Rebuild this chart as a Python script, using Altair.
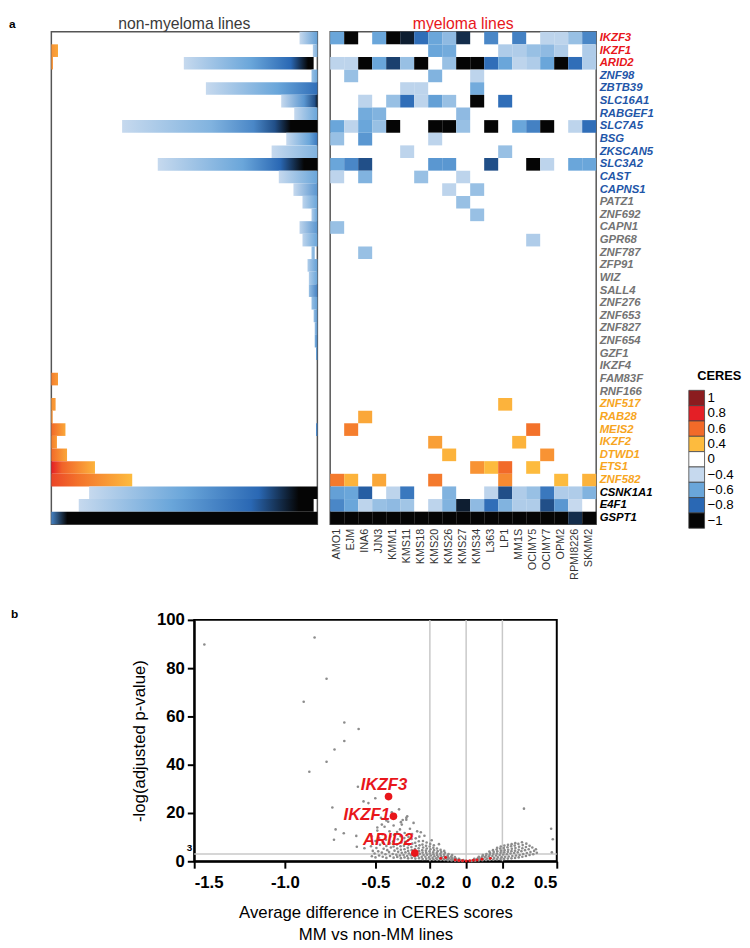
import json
import altair as alt
import pandas as pd

# ---------------- heatmap data ----------------
genes = ["IKZF3", "IKZF1", "ARID2", "ZNF98", "ZBTB39", "SLC16A1", "RABGEF1", "SLC7A5", "BSG",
         "ZKSCAN5", "SLC3A2", "CAST", "CAPNS1", "PATZ1", "ZNF692", "CAPN1", "GPR68", "ZNF787",
         "ZFP91", "WIZ", "SALL4", "ZNF276", "ZNF653", "ZNF827", "ZNF654", "GZF1", "IKZF4",
         "FAM83F", "RNF166", "ZNF517", "RAB28", "MEIS2", "IKZF2", "DTWD1", "ETS1", "ZNF582",
         "CSNK1A1", "E4F1", "GSPT1"]
red_genes = ["IKZF3", "IKZF1", "ARID2"]
blue_genes = ["ZNF98", "ZBTB39", "SLC16A1", "RABGEF1", "SLC7A5", "BSG", "ZKSCAN5", "SLC3A2", "CAST", "CAPNS1"]
gray_genes = ["PATZ1", "ZNF692", "CAPN1", "GPR68", "ZNF787", "ZFP91", "WIZ", "SALL4", "ZNF276",
              "ZNF653", "ZNF827", "ZNF654", "GZF1", "IKZF4", "FAM83F", "RNF166"]
orange_genes = ["ZNF517", "RAB28", "MEIS2", "IKZF2", "DTWD1", "ETS1", "ZNF582"]

lines = ["AMO1", "EJM", "INA6", "JJN3", "KMM1", "KMS11", "KMS18", "KMS20", "KMS26", "KMS27",
         "KMS34", "L363", "LP1", "MM1S", "OCIMY5", "OCIMY7", "OPM2", "RPMI8226", "SKMM2"]

# myeloma lines: non-white cells (CERES score)
mm_cells = {
    "IKZF3": {"AMO1": -0.6, "EJM": -1, "JJN3": -0.6, "KMM1": -1, "KMS11": -0.95, "KMS18": -0.78,
              "KMS20": -0.6, "KMS26": -0.52, "KMS27": -0.92, "L363": -0.7, "MM1S": -0.72,
              "OCIMY7": -0.42, "OPM2": -0.42, "RPMI8226": -0.5, "SKMM2": -0.7},
    "IKZF1": {"KMS20": -0.6, "KMS26": -0.58, "LP1": -0.45, "MM1S": -0.45, "OCIMY5": -0.5,
              "OCIMY7": -0.52, "OPM2": -0.45, "SKMM2": -0.45},
    "ARID2": {"AMO1": -0.42, "EJM": -0.42, "INA6": -1, "JJN3": -0.6, "KMM1": -0.88, "KMS11": -0.5,
              "KMS18": -1, "KMS26": -0.5, "KMS27": -1, "KMS34": -1, "L363": -0.78, "LP1": -0.6,
              "MM1S": -0.42, "OCIMY5": -0.45, "OCIMY7": -0.6, "OPM2": -1, "RPMI8226": -0.78,
              "SKMM2": -0.45},
    "ZNF98": {"EJM": -0.5, "KMS20": -0.55, "KMS34": -0.42},
    "ZBTB39": {"KMS11": -0.42, "KMS18": -0.42, "KMS34": -0.58},
    "SLC16A1": {"INA6": -0.42, "KMM1": -0.5, "KMS11": -0.78, "KMS18": -0.42, "KMS20": -0.62,
                "KMS26": -0.5, "KMS34": -1, "LP1": -0.78},
    "RABGEF1": {"INA6": -0.58, "JJN3": -0.55, "KMS27": -0.52},
    "SLC7A5": {"AMO1": -0.6, "EJM": -0.42, "INA6": -0.6, "JJN3": -0.5, "KMM1": -1, "KMS20": -1,
               "KMS26": -1, "KMS27": -0.5, "L363": -1, "MM1S": -0.6, "OCIMY5": -0.72,
               "OCIMY7": -1, "RPMI8226": -0.42, "SKMM2": -0.78},
    "BSG": {"AMO1": -0.5, "INA6": -0.65, "KMS20": -0.42},
    "ZKSCAN5": {"KMS11": -0.42, "LP1": -0.5},
    "SLC3A2": {"AMO1": -0.6, "EJM": -0.7, "INA6": -0.85, "KMS20": -0.65, "KMS26": -0.65,
               "L363": -0.85, "OCIMY5": -1, "OCIMY7": -0.42, "RPMI8226": -0.6, "SKMM2": -0.6},
    "CAST": {"AMO1": -0.42, "INA6": -0.55, "KMS18": -0.5, "KMS27": -0.42},
    "CAPNS1": {"KMS26": -0.42, "KMS34": -0.5},
    "PATZ1": {"KMS27": -0.5},
    "ZNF692": {"KMS34": -0.5},
    "CAPN1": {"AMO1": -0.5},
    "GPR68": {"OCIMY5": -0.45},
    "ZNF787": {"INA6": -0.5},
    "ZNF517": {"LP1": 0.42},
    "RAB28": {"INA6": 0.45},
    "MEIS2": {"EJM": 0.55, "OCIMY5": 0.58},
    "IKZF2": {"KMS20": 0.47, "MM1S": 0.42},
    "DTWD1": {"KMS26": 0.42, "OCIMY7": 0.5},
    "ETS1": {"KMS34": 0.5, "L363": 0.4, "LP1": 0.6, "OCIMY5": 0.4},
    "ZNF582": {"AMO1": 0.56, "EJM": 0.42, "JJN3": 0.45, "KMS20": 0.56, "LP1": 0.52, "OPM2": 0.4,
               "SKMM2": 0.42},
    "CSNK1A1": {"AMO1": -0.62, "EJM": -0.6, "INA6": -0.82, "KMM1": -0.42, "KMS11": -0.75,
                "KMS26": -0.55, "L363": -0.42, "LP1": -0.85, "MM1S": -0.45, "OCIMY5": -0.5,
                "OCIMY7": -0.75, "OPM2": -0.45, "RPMI8226": -0.45, "SKMM2": -0.55},
    "E4F1": {"AMO1": -0.7, "EJM": -0.6, "INA6": -0.42, "JJN3": -0.5, "KMM1": -0.52, "KMS11": -0.48,
             "KMS20": -0.42, "KMS26": -0.55, "KMS27": -0.95, "KMS34": -0.52, "L363": -0.78,
             "LP1": -0.55, "MM1S": -0.45, "OCIMY5": -0.45, "OCIMY7": -0.85, "OPM2": -0.65,
             "RPMI8226": -0.4},
    "GSPT1": {"AMO1": -1, "EJM": -1, "INA6": -1, "JJN3": -1, "KMM1": -1, "KMS11": -1, "KMS18": -1,
              "KMS20": -1, "KMS26": -1, "KMS27": -1, "KMS34": -1, "L363": -1, "LP1": -1,
              "MM1S": -1, "OCIMY5": -1, "OCIMY7": -1, "OPM2": -1, "RPMI8226": -0.92, "SKMM2": -1},
}

# non-myeloma lines: sorted-line profile per gene, as (fraction of lines, CERES) knots
nonmm_segments = [
    ("IKZF3", [(0.933, -0.4), (1.0, -0.62)]),
    ("IKZF1", [(0.0, 0.5), (0.025, 0.45)]),
    ("IKZF1", [(0.983, -0.45), (1.0, -0.55)]),
    ("ARID2", [(0.0, 0.5), (0.006, 0.5)]),
    ("ARID2", [(0.498, -0.4), (0.75, -0.6), (0.9, -0.8), (0.965, -1.0), (0.986, -1.0)]),
    ("ZNF98", [(0.978, -0.5), (1.0, -0.6)]),
    ("ZBTB39", [(0.581, -0.4), (0.85, -0.6), (1.0, -0.78)]),
    ("SLC16A1", [(0.864, -0.4), (0.95, -0.65), (0.99, -0.85), (1.0, -0.95)]),
    ("RABGEF1", [(0.913, -0.4), (1.0, -0.6)]),
    ("SLC7A5", [(0.266, -0.4), (0.6, -0.55), (0.76, -0.7), (0.84, -0.85), (0.9, -1.0), (1.0, -1.0)]),
    ("BSG", [(0.883, -0.4), (0.97, -0.6), (1.0, -0.75)]),
    ("ZKSCAN5", [(0.828, -0.4), (1.0, -0.55)]),
    ("SLC3A2", [(0.40, -0.4), (0.72, -0.6), (0.86, -0.8), (0.95, -1.0), (1.0, -1.0)]),
    ("CAST", [(0.855, -0.4), (1.0, -0.6)]),
    ("CAPNS1", [(0.91, -0.4), (1.0, -0.65)]),
    ("PATZ1", [(0.944, -0.42), (1.0, -0.6)]),
    ("ZNF692", [(0.978, -0.45), (1.0, -0.6)]),
    ("CAPN1", [(0.933, -0.42), (1.0, -0.65)]),
    ("GPR68", [(0.944, -0.42), (1.0, -0.6)]),
    ("ZNF787", [(0.978, -0.5), (0.99, -0.55)]),
    ("ZFP91", [(0.963, -0.45), (1.0, -0.62)]),
    ("WIZ", [(0.968, -0.45), (1.0, -0.6)]),
    ("SALL4", [(0.968, -0.5), (1.0, -0.72)]),
    ("ZNF276", [(0.978, -0.5), (1.0, -0.62)]),
    ("ZNF653", [(0.986, -0.5), (1.0, -0.65)]),
    ("ZNF827", [(0.99, -0.5), (1.0, -0.65)]),
    ("ZNF654", [(0.99, -0.55), (1.0, -0.7)]),
    ("GZF1", [(0.995, -0.6), (1.0, -0.7)]),
    ("FAM83F", [(0.0, 0.55), (0.025, 0.48)]),
    ("ZNF517", [(0.0, 0.5), (0.016, 0.48)]),
    ("RAB28", [(0.0, 0.5), (0.005, 0.5)]),
    ("MEIS2", [(0.0, 0.6), (0.053, 0.45)]),
    ("MEIS2", [(0.995, -0.7), (1.0, -0.7)]),
    ("IKZF2", [(0.0, 0.55), (0.021, 0.48)]),
    ("DTWD1", [(0.0, 0.6), (0.059, 0.45)]),
    ("ETS1", [(0.0, 0.8), (0.04, 0.62), (0.164, 0.42)]),
    ("ZNF582", [(0.0, 0.7), (0.1, 0.58), (0.304, 0.4)]),
    ("CSNK1A1", [(0.142, -0.4), (0.5, -0.6), (0.78, -0.8), (0.93, -1.0), (1.0, -1.0)]),
    ("E4F1", [(0.103, -0.4), (0.45, -0.6), (0.75, -0.8), (0.93, -1.0), (0.986, -1.0)]),
    ("GSPT1", [(0.0, -0.72), (0.06, -1.0), (1.0, -1.0)]),
]

legend_labels = ["1", "0.8", "0.6", "0.4", "0", "\u22120.4", "\u22120.6", "\u22120.8", "\u22121"]
legend_values = [1, 0.8, 0.6, 0.4, 0, -0.4, -0.6, -0.8, -1]

ceres_domain = [-1, -0.8, -0.6, -0.4, 0, 0.4, 0.6, 0.8, 1]
ceres_range = ["#050505", "#2a68b4", "#6aa6da", "#c6d9ee", "#ffffff", "#fdbb3e", "#f26a29", "#e41f26", "#8b1c1f"]

# ---------------- volcano data ----------------
gray_pts = [
    (-1.444, 89.8), (-0.836, 92.7), (-0.770, 75.6), (-0.896, 66.1), (-0.672, 57.5), (-0.593, 54.8),
    (-0.672, 49.8), (-0.726, 46.3), (-0.770, 41.2), (-0.865, 37.1), (-0.597, 30.9), (-0.566, 24.8),
    (-0.738, 22.3), (-0.539, 24.1), (-0.720, 13.2), (-0.675, 11.6), (-0.729, 8.9), (-0.606, 10.5),
    (-0.603, 6.0), (-0.561, 5.4), (-0.501, 26.1), (-0.325, 18.6), (-0.465, 15.2), (-0.365, 13.2),
    (0.319, 21.8), (0.469, 13.5), (0.478, 9.1), (0.473, 3.7),
    (-0.33, 18.0), (-0.35, 17.1), (-0.36, 16.2), (-0.49, 14.0), (-0.40, 14.8), (-0.44, 16.9),
    (-0.31, 13.5), (-0.27, 12.4), (-0.355, 15.2), (-0.23, 10.6), (-0.19, 8.7), (-0.49, 12.7),
    (-0.45, 14.3), (-0.33, 17.2), (-0.29, 15.9), (-0.25, 12.0), (-0.15, 7.1), (-0.43, 16.4),
    (-0.41, 20.3), (-0.37, 21.5), (-0.47, 18.0), (-0.52, 10.3),
    (-0.52, 2.1), (-0.515, 4.3), (-0.525, 6.2),
    (-0.50, 1.6), (-0.505, 3.2), (-0.495, 5.5), (-0.50, 8.4),
    (-0.48, 2.4), (-0.485, 4.1), (-0.475, 6.8), (-0.48, 9.6),
    (-0.46, 1.9), (-0.465, 3.6), (-0.455, 5.2), (-0.46, 7.7), (-0.462, 11.2),
    (-0.44, 1.4), (-0.445, 2.9), (-0.435, 4.6), (-0.44, 6.3), (-0.442, 8.9),
    (-0.42, 2.2), (-0.425, 3.8), (-0.415, 5.7), (-0.42, 7.4), (-0.418, 10.3), (-0.423, 12.4),
    (-0.40, 1.5), (-0.405, 3.0), (-0.395, 4.4), (-0.40, 6.1), (-0.403, 8.2), (-0.398, 11.0),
    (-0.38, 1.8), (-0.385, 2.7), (-0.375, 3.9), (-0.38, 5.3), (-0.382, 6.9), (-0.377, 9.1), (-0.381, 12.1),
    (-0.36, 1.3), (-0.365, 2.4), (-0.355, 3.5), (-0.36, 4.8), (-0.362, 6.2), (-0.357, 7.8), (-0.361, 10.4),
    (-0.34, 1.6), (-0.345, 2.6), (-0.335, 3.7), (-0.34, 5.0), (-0.343, 6.4), (-0.337, 8.1), (-0.341, 9.6), (-0.339, 11.7),
    (-0.32, 1.2), (-0.325, 2.2), (-0.315, 3.2), (-0.32, 4.3), (-0.322, 5.6), (-0.317, 6.8), (-0.321, 8.6), (-0.318, 10.1),
    (-0.30, 1.4), (-0.305, 2.5), (-0.295, 3.4), (-0.30, 4.6), (-0.302, 5.9), (-0.297, 7.3), (-0.301, 9.2), (-0.298, 11.3),
    (-0.28, 1.1), (-0.285, 2.0), (-0.275, 2.9), (-0.28, 4.0), (-0.282, 5.1), (-0.277, 6.3), (-0.281, 7.7), (-0.278, 9.5),
    (-0.26, 1.3), (-0.265, 2.3), (-0.255, 3.1), (-0.26, 4.2), (-0.262, 5.4), (-0.257, 6.6), (-0.261, 8.3), (-0.258, 10.2),
    (-0.24, 0.9), (-0.245, 1.8), (-0.235, 2.6), (-0.24, 3.6), (-0.242, 4.6), (-0.237, 5.7), (-0.241, 6.9), (-0.238, 8.4),
    (-0.22, 1.0), (-0.225, 1.9), (-0.215, 2.7), (-0.22, 3.5), (-0.222, 4.4), (-0.217, 5.3), (-0.221, 6.4), (-0.218, 7.8),
    (-0.20, 0.8), (-0.205, 1.6), (-0.195, 2.4), (-0.20, 3.2), (-0.202, 4.1), (-0.197, 5.0), (-0.201, 6.1), (-0.198, 7.2),
    (-0.18, 0.7), (-0.185, 1.4), (-0.175, 2.1), (-0.18, 2.9), (-0.182, 3.7), (-0.177, 4.6), (-0.181, 5.6), (-0.178, 6.6),
    (-0.16, 0.6), (-0.165, 1.2), (-0.155, 1.9), (-0.16, 2.6), (-0.162, 3.4), (-0.157, 4.2), (-0.161, 5.3),
    (-0.14, 0.6), (-0.145, 1.1), (-0.135, 1.7), (-0.14, 2.4), (-0.142, 3.1), (-0.137, 3.8), (-0.141, 4.7),
    (-0.12, 0.5), (-0.125, 0.9), (-0.115, 1.5), (-0.12, 2.1), (-0.122, 2.8), (-0.117, 3.5), (-0.121, 4.3),
    (-0.10, 0.4), (-0.105, 0.8), (-0.095, 1.2), (-0.10, 1.8), (-0.102, 2.4), (-0.097, 3.0),
    (-0.08, 0.3), (-0.085, 0.6), (-0.075, 1.0), (-0.08, 1.5), (-0.082, 2.0), (-0.077, 2.6),
    (-0.06, 0.2), (-0.065, 0.5), (-0.055, 0.8), (-0.06, 1.2), (-0.062, 1.7),
    (-0.04, 0.2), (-0.045, 0.4), (-0.035, 0.6), (-0.04, 1.0),
    (-0.02, 0.1), (-0.025, 0.3), (-0.015, 0.5),
    (0.03, 0.1), (0.035, 0.4),
    (0.05, 0.2), (0.055, 0.6), (0.045, 1.0),
    (0.07, 0.3), (0.075, 0.8), (0.065, 1.3), (0.07, 1.8),
    (0.09, 0.4), (0.095, 0.9), (0.085, 1.5), (0.09, 2.1), (0.092, 2.6),
    (0.11, 0.5), (0.115, 1.1), (0.105, 1.7), (0.11, 2.4), (0.112, 3.0),
    (0.13, 0.6), (0.135, 1.3), (0.125, 2.0), (0.13, 2.7), (0.132, 3.4), (0.128, 4.0),
    (0.15, 0.7), (0.155, 1.4), (0.145, 2.2), (0.15, 3.0), (0.152, 3.8), (0.148, 4.6),
    (0.17, 0.8), (0.175, 1.6), (0.165, 2.4), (0.17, 3.2), (0.172, 4.1), (0.168, 4.9), (0.171, 5.6),
    (0.19, 0.9), (0.195, 1.7), (0.185, 2.6), (0.19, 3.5), (0.192, 4.4), (0.188, 5.3), (0.191, 6.1),
    (0.21, 1.0), (0.215, 1.9), (0.205, 2.8), (0.21, 3.7), (0.212, 4.6), (0.208, 5.5), (0.211, 6.5),
    (0.23, 1.1), (0.235, 2.0), (0.225, 2.9), (0.23, 3.9), (0.232, 4.8), (0.228, 5.8), (0.231, 6.8),
    (0.25, 1.2), (0.255, 2.2), (0.245, 3.2), (0.25, 4.2), (0.252, 5.2), (0.248, 6.2), (0.251, 7.1),
    (0.27, 1.4), (0.275, 2.4), (0.265, 3.4), (0.27, 4.4), (0.272, 5.5), (0.268, 6.5), (0.271, 7.5),
    (0.29, 1.6), (0.295, 2.6), (0.285, 3.7), (0.29, 4.8), (0.292, 6.0), (0.288, 7.2),
    (0.31, 1.9), (0.315, 3.0), (0.305, 4.2), (0.31, 5.4), (0.312, 6.7), (0.308, 7.9),
    (0.33, 2.2), (0.335, 3.4), (0.325, 4.6), (0.33, 5.9), (0.332, 7.3),
    (0.35, 2.6), (0.355, 3.8), (0.345, 5.0), (0.35, 6.4),
    (0.37, 2.9), (0.375, 4.3), (0.365, 5.7),
    (0.39, 3.5), (0.385, 5.0),
]
red_small_pts = [(-0.14, 1.2), (-0.113, 1.6), (-0.06, 0.5), (-0.04, 0.3), (-0.02, 0.2), (0.0, 0.1),
                 (0.02, 0.2), (0.04, 0.4), (0.06, 0.5), (0.087, 0.8), (0.133, 1.2)]
hit_genes = ["IKZF3", "IKZF1", "ARID2"]
hit_x = [-0.428, -0.401, -0.283]
hit_y = [26.8, 18.6, 3.4]
hit_label_x = [-0.453, -0.548, -0.431]
hit_label_y = [31.5, 19.0, 8.7]
vlines = [-0.2, 0, 0.2]
threshold = [3]
x_ticks = [-1.5, -1.0, -0.5, -0.2, 0, 0.2, 0.5]
y_ticks = [0, 20, 40, 60, 80, 100]


def ceres_hex(v):
    v = max(-1.0, min(1.0, v))
    for i in range(len(ceres_domain) - 1):
        a, b = ceres_domain[i], ceres_domain[i + 1]
        if a <= v <= b:
            t = (v - a) / (b - a)
            c1, c2 = ceres_range[i], ceres_range[i + 1]
            rgb = [round(int(c1[k:k + 2], 16) * (1 - t) + int(c2[k:k + 2], 16) * t) for k in (1, 3, 5)]
            return "#%02x%02x%02x" % tuple(rgb)
    return ceres_range[-1]


def ceres_scale():
    return alt.Scale(domain=ceres_domain, range=ceres_range, interpolate="rgb", clamp=True)


FONT = "Liberation Sans"
ROW_H = 500
COL_W = 270

gene_scale = alt.Scale(domain=genes, paddingInner=0, paddingOuter=0)

# ---------------- left panel: non-myeloma lines ----------------
seg_df = pd.DataFrame([
    {"seg": i, "gene": g, "start": k[0][0], "end": k[-1][0]} for i, (g, k) in enumerate(nonmm_segments)
])
seg_base = alt.Chart(seg_df)
left_layers = []
for i, (g, knots) in enumerate(nonmm_segments):
    s, e = knots[0][0], knots[-1][0]
    span = (e - s) if e > s else 1.0
    stops = [alt.GradientStop(offset=min(1.0, max(0.0, (p - s) / span)), color=ceres_hex(v)) for p, v in knots]
    grad = alt.LinearGradient(gradient="linear", stops=stops, x1=0, x2=1, y1=0, y2=0)
    left_layers.append(
        seg_base.transform_filter(alt.datum.seg == i).mark_rect(fill=grad).encode(
            x=alt.X("start:Q", scale=alt.Scale(domain=[0, 1], nice=False, zero=False), axis=None),
            x2="end:Q",
            y=alt.Y("gene:N", scale=gene_scale, axis=None),
        )
    )

left = alt.layer(*left_layers).properties(
    width=COL_W, height=ROW_H,
    title=alt.Title("non-myeloma lines", fontSize=16, fontWeight="normal", color="#3a3a3a",
                    frame="group", anchor="middle", offset=0),
    view=alt.ViewBackground(stroke="#555555", strokeWidth=1.5),
)

# ---------------- right panel: myeloma lines ----------------
mm_df = pd.DataFrame([
    {"gene": g, "line": ln, "ceres": v} for g, row in mm_cells.items() for ln, v in row.items()
])


def in_list(lst):
    return "indexof(%s, datum.value) >= 0" % json.dumps(lst)


label_color = {
    "condition": [
        {"test": in_list(red_genes), "value": "#e8161b"},
        {"test": in_list(blue_genes), "value": "#1f56a8"},
        {"test": in_list(gray_genes), "value": "#737373"},
        {"test": in_list(orange_genes), "value": "#f7a51e"},
    ],
    "value": "#000000",
}

right = alt.Chart(mm_df).mark_rect().encode(
    x=alt.X("line:N", scale=alt.Scale(domain=lines, paddingInner=0, paddingOuter=0),
            axis=alt.Axis(orient="bottom", labelAngle=270, ticks=False, domain=False, title=None,
                          labelFontSize=11, labelColor="#333333", labelPadding=4, labelOverlap=False)),
    y=alt.Y("gene:N", scale=gene_scale,
            axis=alt.Axis(orient="right", ticks=False, domain=False, title=None, labelFontSize=11.5,
                          labelFontWeight="bold", labelFontStyle="italic", labelColor=label_color,
                          labelPadding=3, labelOverlap=False, labelBound=False)),
    color=alt.Color("ceres:Q", scale=ceres_scale(), legend=None),
).properties(
    width=COL_W, height=ROW_H,
    title=alt.Title("myeloma lines", fontSize=16, fontWeight="normal", color="#e8161b",
                    frame="group", anchor="middle", offset=0),
    view=alt.ViewBackground(stroke="#555555", strokeWidth=1.5),
)

# ---------------- CERES legend (also carries the panel letter "a") ----------------
leg_df = pd.DataFrame({"label": legend_labels, "value": legend_values})
leg_y = alt.Y("label:N", scale=alt.Scale(domain=legend_labels, range=[364, 504], paddingInner=0, paddingOuter=0),
              axis=None)
leg_rect = alt.Chart(leg_df).mark_rect(stroke="#444444", strokeWidth=0.8).encode(
    x=alt.value(81), x2=alt.value(97), y=leg_y,
    color=alt.Color("value:Q", scale=ceres_scale(), legend=None),
)
leg_text = alt.Chart(leg_df).mark_text(align="left", baseline="middle", fontSize=13.5, color="black").encode(
    x=alt.value(100), y=leg_y, text="label:N"
)
leg_title = alt.Chart(pd.DataFrame({"t": ["CERES"]})).mark_text(
    fontSize=13, fontWeight="bold", align="center", baseline="middle", color="black"
).encode(x=alt.value(112), y=alt.value(350), text="t:N")
a_label = alt.Chart(pd.DataFrame({"t": ["a"]})).mark_text(
    fontSize=12, fontWeight="bold", align="left", baseline="top", color="black"
).encode(x=alt.value(-609), y=alt.value(-13), text="t:N")
legend = alt.layer(leg_rect, leg_text, leg_title, a_label).properties(
    width=100, height=ROW_H, view=alt.ViewBackground(stroke="transparent")
)

top = alt.hconcat(left, right, legend, spacing=13, bounds="flush")

# ---------------- volcano ----------------
gray_df = pd.DataFrame(gray_pts, columns=["diff", "logp"])
red_df = pd.DataFrame(red_small_pts, columns=["diff", "logp"])
hit_df = pd.DataFrame({"gene": hit_genes, "diff": hit_x, "logp": hit_y})
hit_lab_df = pd.DataFrame({"gene": hit_genes, "diff": hit_label_x, "logp": hit_label_y})
vline_df = pd.DataFrame({"diff": vlines})
hline_df = pd.DataFrame({"logp": threshold})
thr_lab_df = pd.DataFrame({"diff": [-1.5], "logp": threshold, "t": [str(t) for t in threshold]})

xs = alt.Scale(domain=[-1.5, 0.5], nice=False, zero=False)
ys = alt.Scale(domain=[0, 100], nice=False, zero=False)
X = alt.X("diff:Q", scale=xs, axis=alt.Axis(
    values=x_ticks, labelExpr="datum.value == -1 ? '-1.0' : '' + datum.value", grid=False,
    domainColor="black", domainWidth=2, tickColor="black", tickWidth=2, tickSize=7,
    labelFontSize=17, labelFontWeight="bold", labelColor="black", labelPadding=7,
    title=["Average difference in CERES scores", "MM vs non-MM lines"], titleFontSize=17,
    titleFontWeight="normal", titleColor="black", titlePadding=14, titleLineHeight=22))
Y = alt.Y("logp:Q", scale=ys, axis=alt.Axis(
    values=y_ticks, grid=False, domainColor="black", domainWidth=2, tickColor="black", tickWidth=2,
    tickSize=7, labelFontSize=17, labelFontWeight="bold", labelColor="black", labelPadding=3,
    title="-log(adjusted p-value)", titleFontSize=17, titleFontWeight="normal", titleColor="black",
    titlePadding=8))

v_rules = alt.Chart(vline_df).mark_rule(color="#c8c8c8", strokeWidth=1.5).encode(x=X)
h_rule = alt.Chart(hline_df).mark_rule(color="#c8c8c8", strokeWidth=1.5).encode(y=Y)
gray_layer = alt.Chart(gray_df).mark_circle(size=7, color="#8c8c8c", opacity=1).encode(x=X, y=Y)
red_small = alt.Chart(red_df).mark_circle(size=9, color="#e8161b", opacity=1).encode(x=X, y=Y)
hits = alt.Chart(hit_df).mark_circle(size=60, color="#e8161b", opacity=1).encode(x=X, y=Y)
hit_labels = alt.Chart(hit_lab_df).mark_text(
    fontSize=17, fontWeight="bold", fontStyle="italic", color="#e8161b", align="center", baseline="middle"
).encode(x=X, y=Y, text="gene:N")
thr_label = alt.Chart(thr_lab_df).mark_text(
    fontSize=10, fontWeight="bold", color="black", align="right", baseline="bottom", dx=-2, dy=-1
).encode(x=X, y=Y, text="t:N")

volcano = alt.layer(v_rules, h_rule, gray_layer, red_small, hits, hit_labels, thr_label).properties(
    width=368, height=245,
    view=alt.ViewBackground(stroke="black", strokeWidth=2),
)

# empty spacer column carrying the panel letter "b"
b_label = alt.Chart(pd.DataFrame({"t": ["b"]})).mark_text(
    fontSize=12, fontWeight="bold", align="left", baseline="top", color="black"
).encode(x=alt.value(-41), y=alt.value(-11), text="t:N")
spacer = b_label.properties(width=140, height=245, view=alt.ViewBackground(stroke="transparent"))

bottom = alt.hconcat(spacer, volcano, spacing=5, bounds="flush")

chart = alt.vconcat(top, bottom, spacing=27).properties(padding=0).configure(font=FONT)

chart.save("out.html", embed_options={"renderer": "svg", "actions": False})
